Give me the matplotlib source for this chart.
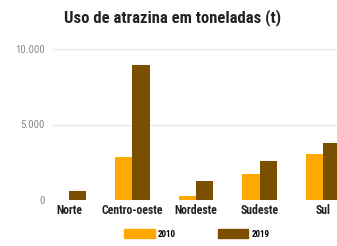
import matplotlib
matplotlib.use("Agg")
import matplotlib.pyplot as plt
import numpy as np
from matplotlib.patches import Patch
from matplotlib import font_manager

regions = ["Norte", "Centro-oeste", "Nordeste", "Sudeste", "Sul"]
years = ["2010", "2019"]
values_2010 = [30, 2870, 260, 1720, 3020]
values_2019 = [620, 8940, 1280, 2600, 3800]
yticks = [0, 5000, 10000]
ytick_labels = ["0", "5.000", "10.000"]
title = "Uso de atrazina em toneladas (t)"

colors = ["#FFA800", "#7A5000"]

names = {f.name for f in font_manager.fontManager.ttflist}
cands = ["Roboto Condensed", "Noto Sans Condensed", "Open Sans Condensed",
         "Liberation Sans Narrow", "DejaVu Sans Condensed", "Noto Sans Display Condensed"]
fam = None
for c in cands:
    if c in names:
        fam = c
        break
stretch = "normal"
if fam is None:
    cond = [f for f in font_manager.fontManager.ttflist
            if str(f.stretch) in ("condensed", "semi-condensed", "extra-condensed", "75", "87", "62")]
    if cond:
        fam = cond[0].name
        stretch = cond[0].stretch
    else:
        fam = "DejaVu Sans"
plt.rcParams['font.family'] = [fam, 'DejaVu Sans']
plt.rcParams['font.stretch'] = stretch
narrow = fam != "DejaVu Sans"

fig = plt.figure(figsize=(3.37, 2.46), dpi=100)
ax = fig.add_axes([53/337, 1-200/246, 286/337, 151/246])

x = np.arange(len(regions))
w = 0.27
ax.bar(x - w/2, values_2010, width=w, color=colors[0], zorder=3)
ax.bar(x + w/2, values_2019, width=w, color=colors[1], zorder=3)

ax.set_xlim(-0.25, 4.25)
ax.set_ylim(0, 10000)
ax.set_yticks(yticks)
ax.set_yticklabels(ytick_labels, color="#8a8a8a", fontsize=7.8 if narrow else 6.4)
ax.set_xticks(x)
ax.set_xticklabels(regions, fontsize=8.5 if narrow else 6.8, fontweight="bold", color="#222222")
ax.tick_params(axis="both", length=0, pad=3)
ax.tick_params(axis="y", pad=6)
ax.grid(axis="y", color="#e6e6e6", linewidth=0.8, zorder=0)
for s in ax.spines.values():
    s.set_visible(False)

fig.text(173/337, 1-18/246, title, ha="center", va="center", fontsize=12 if narrow else 9.5,
         fontweight="bold", color="#222222")

handles = [Patch(color=colors[0], label=years[0]), Patch(color=colors[1], label=years[1])]
fig.legend(handles=handles, loc="center", bbox_to_anchor=(197/337, 1-234/246), ncol=2,
           frameon=False, handlelength=3.4, handleheight=1.1,
           columnspacing=4.6, handletextpad=0.4, prop={"weight": "bold", "size": 6.5})

fig.savefig("out.png", dpi=100)
